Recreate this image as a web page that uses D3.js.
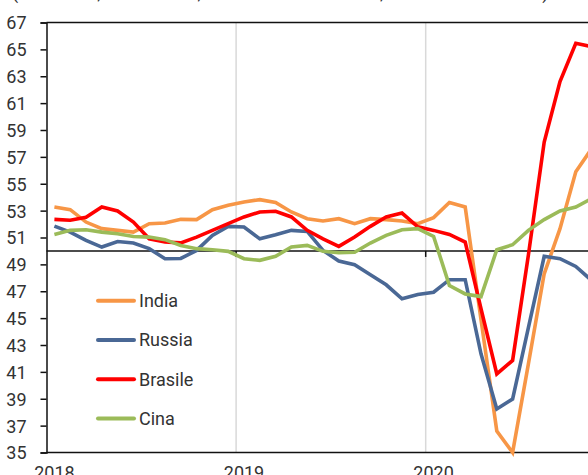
<!DOCTYPE html>
<html>
<head>
<meta charset="utf-8">
<script src="https://cdn.jsdelivr.net/npm/d3@7"></script>
<style>
  html, body { margin: 0; padding: 0; background: #fff; }
  svg { display: block; }
  text { font-family: Roboto, "Open Sans", sans-serif; }
</style>
</head>
<body>
<svg id="chart" width="588" height="475"></svg>
<script>
// Monthly values, Jan 2018 .. Nov 2020 (last one partly beyond the frame)
const india   = [53.27, 53.07, 52.15, 51.66, 51.53, 51.4, 52.03, 52.08, 52.35, 52.33, 53.07, 53.4,
                 53.64, 53.82, 53.6, 52.9, 52.4, 52.23, 52.4, 52.03, 52.4, 52.33, 52.23, 52.03,
                 52.48, 53.6, 53.27, 44.9, 36.6, 35.0, 41.6, 48.3, 51.66, 55.9, 57.6];
const russia  = [51.85, 51.4, 50.79, 50.29, 50.7, 50.59, 50.17, 49.42, 49.44, 50.04, 51.16, 51.83,
                 51.78, 50.9, 51.2, 51.53, 51.45, 50.04, 49.25, 48.97, 48.23, 47.48, 46.44, 46.76,
                 46.93, 47.86, 47.86, 42.34, 38.24, 38.98, 44.3, 49.6, 49.42, 48.85, 47.8];
const brasile = [52.35, 52.28, 52.5, 53.27, 52.97, 52.15, 50.9, 50.66, 50.6, 51.03, 51.53, 52.03,
                 52.53, 52.9, 52.95, 52.53, 51.53, 50.9, 50.34, 51.03, 51.83, 52.53, 52.82, 51.8,
                 51.53, 51.23, 50.66, 45.7, 40.85, 41.85, 49.7, 58.1, 62.6, 65.45, 65.2];
const cina    = [51.23, 51.53, 51.58, 51.4, 51.28, 51.08, 51.03, 50.84, 50.41, 50.17, 50.09, 49.97,
                 49.42, 49.3, 49.6, 50.29, 50.41, 49.97, 49.87, 49.9, 50.59, 51.16, 51.58, 51.66,
                 51.08, 47.43, 46.8, 46.6, 50.09, 50.46, 51.53, 52.33, 52.97, 53.27, 53.9];

const seriesNames = ["India", "Russia", "Brasile", "Cina"];
const seriesData = [india, russia, brasile, cina];
const seriesColors = ["#F79646", "#4A6895", "#FF0000", "#9BBB59"];

const yearLabels = ["2018", "2019", "2020"];
const yTicks = d3.range(35, 68, 2);
const subtitle = "(indici PMI, dati mensili, settore manifatturiero, 50 = livello neutrale)";

const svg = d3.select("#chart");
const padLeft = 46.5, padTop = 22.5, padBottom = 452.5;

// month index scale: 0 = start of Jan 2018
const x = d3.scaleLinear().domain([0, 12]).range([padLeft, padLeft + 189.6]);
const y = d3.scaleLinear().domain([35, 67]).range([padBottom, padTop]);

// clipped subtitle at the very top
svg.append("text")
  .attr("x", 12).attr("y", -1)
  .attr("font-size", 18).attr("fill", "#333")
  .text(subtitle);

// vertical year gridlines
svg.append("g").selectAll("line").data([12, 24]).join("line")
  .attr("x1", d => x(d)).attr("x2", d => x(d))
  .attr("y1", y(67)).attr("y2", y(35))
  .attr("stroke", "#d9d9d9").attr("stroke-width", 1.5);

// y axis
const yAxis = d3.axisLeft(y).tickValues(yTicks).tickSize(6).tickPadding(14).tickFormat(d3.format("d"));
const gy = svg.append("g").attr("transform", `translate(${padLeft},0)`).call(yAxis);
gy.select(".domain").attr("stroke", "#111").attr("stroke-width", 1.5);
gy.selectAll(".tick line").attr("stroke", "#111").attr("stroke-width", 1.5);
gy.selectAll(".tick text").attr("font-size", 18).attr("fill", "#333")
  .attr("font-family", "Roboto, sans-serif").attr("dy", "0.36em");

// top frame line & bottom axis line
svg.append("line").attr("x1", padLeft).attr("x2", 600)
  .attr("y1", y(67)).attr("y2", y(67)).attr("stroke", "#111").attr("stroke-width", 1.5);
svg.append("line").attr("x1", padLeft).attr("x2", 600)
  .attr("y1", y(35)).attr("y2", y(35)).attr("stroke", "#111").attr("stroke-width", 1.5);

// 50 reference axis with small ticks
svg.append("line").attr("x1", padLeft).attr("x2", 600)
  .attr("y1", y(50)).attr("y2", y(50)).attr("stroke", "#111").attr("stroke-width", 1.5);
svg.append("g").selectAll("line").data([12, 24]).join("line")
  .attr("x1", d => x(d)).attr("x2", d => x(d))
  .attr("y1", y(50)).attr("y2", y(50) + 6)
  .attr("stroke", "#111").attr("stroke-width", 1.5);

// year labels (centered on mid-January)
svg.append("g").selectAll("text").data(yearLabels).join("text")
  .attr("x", (d, i) => x(i * 12 + 0.5))
  .attr("y", 478.5)
  .attr("text-anchor", "middle")
  .attr("font-size", 18).attr("fill", "#333")
  .text(d => d);

// series lines
const line = d3.line().x((d, i) => x(i + 0.5)).y(d => y(d));
svg.append("g").selectAll("path").data(seriesData).join("path")
  .attr("d", d => line(d))
  .attr("fill", "none")
  .attr("stroke", (d, i) => seriesColors[i])
  .attr("stroke-width", 3.6)
  .attr("stroke-linejoin", "miter");

// legend
const legendY = d3.scaleLinear().domain([0, 3]).range([300.7, 418.5]);
const lg = svg.append("g").selectAll("g").data(seriesNames).join("g")
  .attr("transform", (d, i) => `translate(0,${legendY(i)})`);
lg.append("line").attr("x1", 98).attr("x2", 134).attr("y1", 0).attr("y2", 0)
  .attr("stroke", (d, i) => seriesColors[i]).attr("stroke-width", 4).attr("stroke-linecap", "round");
lg.append("text").attr("x", 139).attr("y", 0).attr("dy", "0.36em")
  .attr("font-size", 18).attr("fill", "#333").text(d => d);
</script>
</body>
</html>
